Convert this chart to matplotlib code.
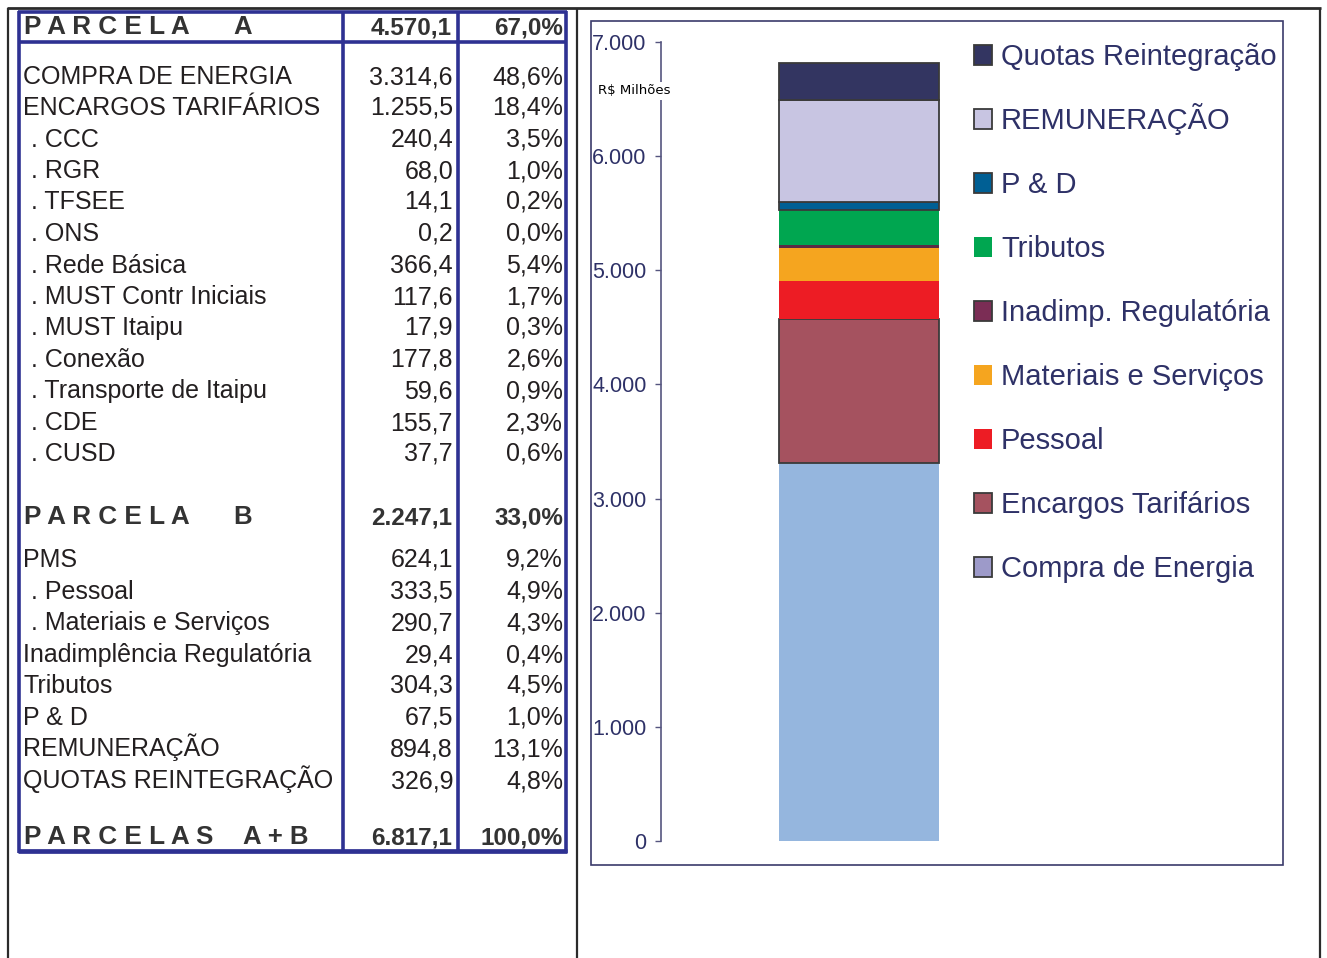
import numpy as np
import matplotlib.pyplot as plt
from matplotlib.lines import Line2D
from matplotlib.patches import Rectangle

W, H = 1327, 958
SANS = ["Liberation Sans", "DejaVu Sans"]
plt.rcParams["font.family"] = SANS

# ---- table data (R$ milhões) ----
table_labels = ["PARCELA A", "COMPRA DE ENERGIA", "ENCARGOS TARIFÁRIOS", ". CCC", ". RGR",
                ". TFSEE", ". ONS", ". Rede Básica", ". MUST Contr Iniciais", ". MUST Itaipu",
                ". Conexão", ". Transporte de Itaipu", ". CDE", ". CUSD",
                "PARCELA B", "PMS", ". Pessoal", ". Materiais e Serviços",
                "Inadimplência Regulatória", "Tributos", "P & D", "REMUNERAÇÃO",
                "QUOTAS REINTEGRAÇÃO", "PARCELAS A+B"]
table_values = [4570.1, 3314.6, 1255.5, 240.4, 68.0, 14.1, 0.2, 366.4, 117.6, 17.9,
                177.8, 59.6, 155.7, 37.7,
                2247.1, 624.1, 333.5, 290.7, 29.4, 304.3, 67.5, 894.8, 326.9, 6817.1]
table_pcts = [67.0, 48.6, 18.4, 3.5, 1.0, 0.2, 0.0, 5.4, 1.7, 0.3, 2.6, 0.9, 2.3, 0.6,
              33.0, 9.2, 4.9, 4.3, 0.4, 4.5, 1.0, 13.1, 4.8, 100.0]
bold_rows = ["PARCELA A", "PARCELA B", "PARCELAS A+B"]

# ---- chart data (stack, bottom to top) ----
stack_names = ["Compra de Energia", "Encargos Tarifários", "Pessoal", "Materiais e Serviços",
               "Inadimp. Regulatória", "Tributos", "P & D", "REMUNERAÇÃO", "Quotas Reintegração"]
stack_values = [3314.6, 1255.5, 333.5, 290.7, 29.4, 304.3, 67.5, 894.8, 326.9]
bar_colors = ["#95b6de", "#a5525f", "#ed1c24", "#f5a51f", "#5a2a45", "#00a650",
              "#005f94", "#c8c5e2", "#333561"]
legend_colors = ["#9d9ac9", "#a5525f", "#ed1c24", "#f5a51f", "#7b2d55", "#00a650",
                 "#005f94", "#c8c5e2", "#333561"]
has_edge = [False, True, False, False, False, False, True, True, True]
legend_edge = [True, True, False, False, True, False, True, True, True]
yticks = [0, 1000, 2000, 3000, 4000, 5000, 6000, 7000]


def px(x, y):
    return x / W, 1 - y / H


def br(v, d=1):
    s = f"{v:,.{d}f}"
    return s.replace(",", "#").replace(".", ",").replace("#", ".")


def hline(fig, x0, x1, y, color, lw):
    fig.add_artist(Line2D([x0 / W, x1 / W], [1 - y / H, 1 - y / H], color=color, lw=lw,
                          transform=fig.transFigure, solid_capstyle="butt"))


def vline(fig, x, y0, y1, color, lw):
    fig.add_artist(Line2D([x / W, x / W], [1 - y0 / H, 1 - y1 / H], color=color, lw=lw,
                          transform=fig.transFigure, solid_capstyle="butt"))


fig = plt.figure(figsize=(W / 100, H / 100), dpi=100)

# page frame (document table lines)
gray = "#2b2b2b"
hline(fig, 7, 1321, 8, gray, 2.0)
for x in (8, 577, 1320):
    vline(fig, x, 8, 958, gray, 1.6)

# left table
blue = "#2e3192"
vline(fig, 19, 11, 853, blue, 2.6)
vline(fig, 566, 11, 853, blue, 2.6)
vline(fig, 343, 11, 853, blue, 2.6)
vline(fig, 458, 11, 853, blue, 2.6)
hline(fig, 18, 567, 12, blue, 2.6)
hline(fig, 18, 567, 42, blue, 2.6)
hline(fig, 18, 567, 851, blue, 3.4)

row_y = [25, 75, 106, 138, 169, 200, 232, 264, 295, 326, 358, 389, 421, 452,
         515, 558, 590, 621, 653, 684, 716, 747, 779, 835]
txt = "#231f20"
hdr = "#333333"
for lab, v, p, yc in zip(table_labels, table_values, table_pcts, row_y):
    yb = yc + 9
    if lab in bold_rows:
        head, tail = lab.split(" ")
        fig.text(*px(24, yb), " ".join(head), fontsize=18.8, fontweight="bold",
                 color=hdr, va="baseline", ha="left")
        fig.text(*px(233 if len(head) == 7 else 243, yb), " ".join(tail),
                 fontsize=18.5, fontweight="bold", color=hdr, va="baseline", ha="left")
        fig.text(*px(452, yb), br(v), fontsize=17.5, fontweight="bold", color=hdr,
                 va="baseline", ha="right")
        fig.text(*px(563, yb), br(p) + "%", fontsize=17.5, fontweight="bold",
                 color=hdr, va="baseline", ha="right")
    else:
        x0 = 31 if lab.startswith(".") else 23
        fig.text(*px(x0, yb), lab, fontsize=18, color=txt, va="baseline", ha="left")
        fig.text(*px(453, yb), br(v), fontsize=18, color=txt, va="baseline", ha="right")
        fig.text(*px(563, yb), br(p) + "%", fontsize=18, color=txt, va="baseline", ha="right")

# chart frame
navy = "#2e3167"
fig.add_artist(Rectangle((591 / W, 1 - 865 / H), (1283 - 591) / W, (865 - 21) / H,
                         transform=fig.transFigure, fill=False, ec="#3b3b6b", lw=1.2))

ax = fig.add_axes([661 / W, 1 - 841 / H, 300 / W, (841 - 42) / H])
ax.set_xlim(0, 1)
ax.set_ylim(0, 7000)
bottoms = np.concatenate([[0], np.cumsum(stack_values)[:-1]])
for v, b, c, e in zip(stack_values, bottoms, bar_colors, has_edge):
    ax.bar(0.66, v, bottom=b, width=160 / 300, color=c,
           edgecolor="#3a3a3a" if e else "none", linewidth=1.3 if e else 0)
for s in ("top", "right", "bottom"):
    ax.spines[s].set_visible(False)
ax.spines["left"].set_color("#55557f")
ax.spines["left"].set_linewidth(1.2)
ax.set_xticks([])
ax.set_yticks(yticks)
ax.set_yticklabels([br(t, 0) for t in yticks])
ax.tick_params(axis="y", length=4.5, width=1.0, color="#55557f", labelcolor=navy,
               labelsize=15.5, pad=6)
ax.patch.set_visible(False)

fig.text(*px(598, 91), "R$ Milhões", fontsize=9.5, color="black", va="center", ha="left",
         family="DejaVu Sans", bbox=dict(fc="white", ec="none", pad=1.5))

# legend (top to bottom = reverse of stack)
for i, k in enumerate(range(len(stack_names) - 1, -1, -1)):
    yc = 55 + 64 * i
    fig.add_artist(Rectangle((974 / W, 1 - (yc + 10) / H), 18 / W, 20 / H,
                             transform=fig.transFigure, fc=legend_colors[k],
                             ec="#3a3a3a" if legend_edge[k] else "none",
                             lw=1.3 if legend_edge[k] else 0))
    fig.text(*px(1001, yc + 10), stack_names[k], fontsize=21, color=navy,
             va="baseline", ha="left")

fig.savefig("out.png", dpi=100)
